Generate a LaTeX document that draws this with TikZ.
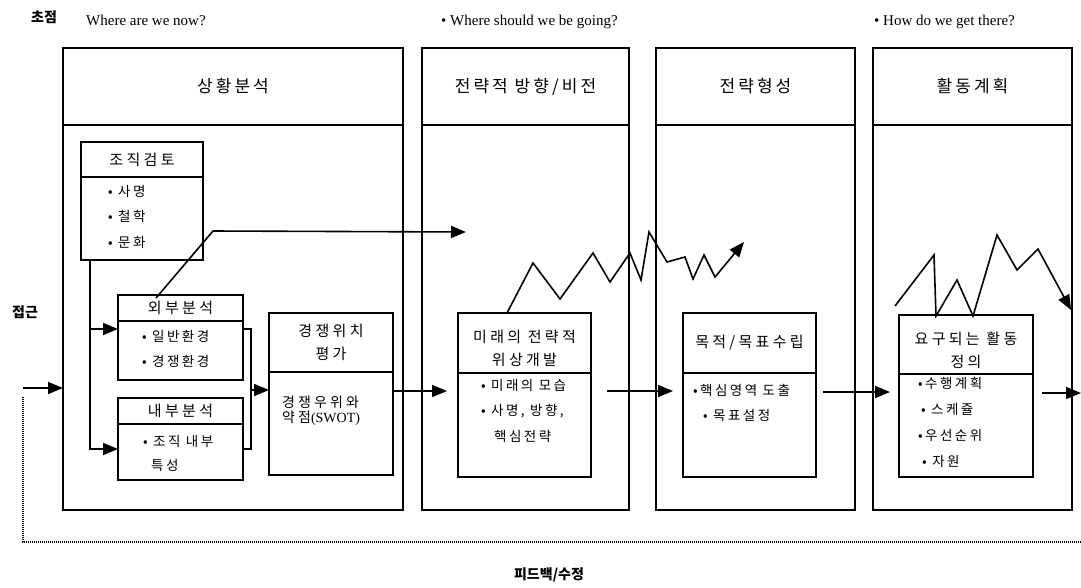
\documentclass[tikz,border=0pt]{standalone}
\usepackage{fontspec}
\setmainfont{Liberation Serif}
\newfontfamily\kr[LetterSpace=18]{Noto Sans CJK KR}
\newfontfamily\krt[LetterSpace=22]{Noto Sans CJK KR}
\newfontfamily\krb{Noto Sans CJK KR}
\usetikzlibrary{arrows.meta,positioning,calc}

\begin{document}
\begin{tikzpicture}[x=1pt,y=-1pt,
        frame/.style={draw,line width=1.4pt,outer sep=0pt},
        stage/.style={frame,anchor=north west,minimum height=77pt,inner sep=0pt,
            font=\kr\fontsize{17}{18}\selectfont},
        boxhead/.style={frame,anchor=north west,inner sep=0pt,align=center,
            font=\krt\fontsize{15}{23}\selectfont},
        boxbody/.style={frame,inner sep=0pt,below=0pt of #1},
        items/.style={anchor=north west,align=left,inner sep=0pt,
            font=\kr\fontsize{13.5}{25.5}\selectfont},
        flow/.style={line width=1.6pt,-{Triangle[length=15pt,width=12pt]}},
        wire/.style={line width=1.6pt},
        question/.style={anchor=west,inner sep=0pt,font=\fontsize{15}{15}\selectfont},
        tag/.style={inner sep=0pt,font=\krb\bfseries\fontsize{14}{14}\selectfont}]
    \useasboundingbox (0,0) rectangle (1081,587);
    % Etiquetas
    \node[tag] (focus) at (44,17) {초점};
    \node[tag] (approach) at (25,312) {접근};
    \node[tag] (feedback) at (549,575) {피드백/수정};
    \node[question] (now) at (86,20) {Where are we now?};
    \node[question] (going) at (441,22) {• Where should we be going?};
    \node[question] (how) at (874,22) {• How do we get there?};
    % Columnas
    \node[stage,minimum width=340pt] (sit) at (63,48) {상황분석};
    \node[stage,minimum width=207pt] (dir) at (422,48) {전략적 방향/비전};
    \node[stage,minimum width=199pt] (form) at (656,48) {전략형성};
    \node[stage,minimum width=199pt] (plan) at (873,48) {활동계획};
    \foreach \s in {sit,dir,form,plan}
        \draw[frame] (\s.south west) rectangle (\s.south east |- 0,510);
    % Cajas
    \node[boxhead,minimum width=122pt,minimum height=35pt] (org) at (81,142) {조직검토};
    \node[boxbody=org,minimum width=122pt,minimum height=83pt] (org-b) {};
    \node[items] at ($(org-b.north west)+(27,8)$) {• 사명\\• 철학\\• 문화};
    \node[boxhead,minimum width=125pt,minimum height=26pt] (ext) at (118,295) {외부분석};
    \node[boxbody=ext,minimum width=125pt,minimum height=59pt] (ext-b) {};
    \node[items] at ($(ext-b.north west)+(24,9)$) {• 일반환경\\• 경쟁환경};
    \node[boxhead,minimum width=125pt,minimum height=26pt] (int) at (118,398) {내부분석};
    \node[boxbody=int,minimum width=125pt,minimum height=56pt] (int-b) {};
    \node[items,font=\kr\fontsize{13.5}{24}\selectfont] at ($(int-b.north west)+(25,11)$) {• 조직 내부\\\hspace*{8pt}특성};
    \node[boxhead,minimum width=124pt,minimum height=59pt] (pos) at (269,313) {경쟁위치\\평가};
    \node[boxbody=pos,minimum width=124pt,minimum height=103pt] (pos-b) {};
    \node[items,font=\krt\fontsize{14}{14.5}\selectfont] at ($(pos-b.north west)+(13,24)$) {경쟁우위와\\약점{\rmfamily(SWOT)}};
    \node[boxhead,minimum width=133pt,minimum height=60pt,text height=47pt] (fut) at (458,313) {미래의 전략적\\위상개발};
    \node[boxbody=fut,minimum width=133pt,minimum height=104pt] (fut-b) {};
    \node[items] at ($(fut-b.north west)+(23,6)$) {• 미래의 모습\\• 사명, 방향,\\\hspace*{13pt}핵심전략};
    \node[boxhead,minimum width=133pt,minimum height=60pt] (goal) at (683,313) {목적/목표수립};
    \node[boxbody=goal,minimum width=133pt,minimum height=104pt] (goal-b) {};
    \node[items] at ($(goal-b.north west)+(10,11)$) {•핵심영역 도출\\\hspace*{10pt}• 목표설정};
    \node[boxhead,minimum width=134pt,minimum height=59pt,text height=47pt] (act) at (899,315) {요구되는 활동\\정의};
    \node[boxbody=act,minimum width=134pt,minimum height=103pt] (act-b) {};
    \node[items,font=\kr\fontsize{13.5}{26}\selectfont] at ($(act-b.north west)+(19,3)$) {•수행계획\\\hspace*{3pt}• 스케쥴\\•우선순위\\\hspace*{4pt}• 자원};
    % Flechas
    \coordinate (start) at (23,388);
    \coordinate (fb) at (23,397);
    \coordinate (fb-end) at (1081,542);
    \coordinate (join) at (251,390);
    \coordinate (aim) at (466,232);
    \coordinate (out) at (1081,393);
    \draw[flow] (start) -- (start -| sit.west);
    \draw[line width=1.2pt,dash pattern=on 1pt off 1pt] (fb) |- (fb-end);
    \draw[flow] ($(org-b.south west)+(9,0)$) |- ($(ext-b.north west)+(0,8)$);
    \draw[flow] ($(org-b.south west)+(9,0)$) |- ($(int-b.north west)+(0,25)$);
    \draw[wire] ($(ext-b.north east)+(0,8)$) -| ($(int-b.north east)+(8,25)$) -- ($(int-b.north east)+(0,25)$);
    \draw[flow] (join) -- (pos-b.west |- join);
    \draw[flow] ($(ext.north west)+(38,3)$) -- (213,231) -- (aim);
    \draw[flow,shorten >=11pt] (pos-b.east |- 0,391) -- (fut-b.west |- 0,391);
    \draw[flow,shorten <=16pt,shorten >=10pt] (fut-b.east |- 0,391) -- (goal-b.west |- 0,391);
    \draw[flow,shorten <=7pt,shorten >=9pt] (goal-b.east |- 0,392) -- (act-b.west |- 0,392);
    \draw[flow,shorten <=9pt] (act-b.east |- out) -- (out);
    % Zigzag
    \draw[flow] ($(fut.north west)+(49,0)$) -- (533,263) -- (560,299) -- (593,253) -- (610,282)
        -- (630,253) -- (641,280) -- (649,232) -- (667,262) -- (685,257) -- (693,279)
        -- (704,255) -- (715,277) -- (744,242);
    \draw[flow] (895,306) -- (934,255) -- (936,316) -- (957,280) -- (973,316) -- (997,235)
        -- (1017,270) -- (1038,249) -- (1071,310);
\end{tikzpicture}
\end{document}
